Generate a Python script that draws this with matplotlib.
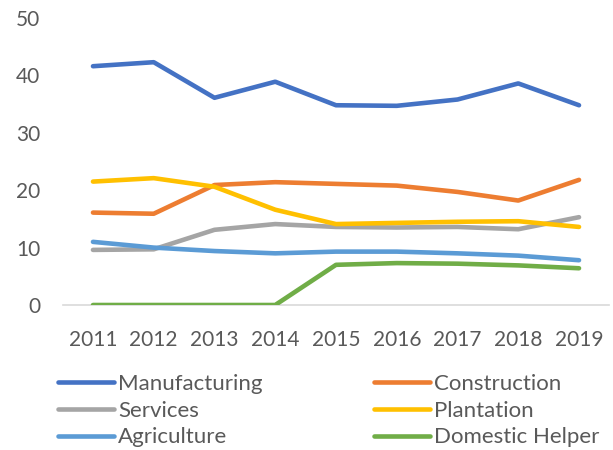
import matplotlib.pyplot as plt

plt.rcParams['font.family'] = ['Lato', 'DejaVu Sans']

years = ['2011', '2012', '2013', '2014', '2015', '2016', '2017', '2018', '2019']

manufacturing = [41.6, 42.3, 36.1, 38.9, 34.8, 34.7, 35.8, 38.6, 34.8]
construction = [16.1, 15.9, 20.9, 21.4, 21.1, 20.8, 19.7, 18.2, 21.8]
services = [9.6, 9.7, 13.1, 14.1, 13.6, 13.5, 13.6, 13.2, 15.3]
plantation = [21.5, 22.1, 20.6, 16.6, 14.1, 14.3, 14.5, 14.6, 13.6]
agriculture = [11.0, 10.0, 9.4, 9.0, 9.3, 9.3, 9.0, 8.6, 7.8]
domestic_helper = [0, 0, 0, 0, 7.0, 7.3, 7.2, 6.9, 6.4]

series = [
    ('Manufacturing', manufacturing, '#4472C4'),
    ('Construction', construction, '#ED7D31'),
    ('Services', services, '#A5A5A5'),
    ('Plantation', plantation, '#FFC000'),
    ('Agriculture', agriculture, '#5B9BD5'),
    ('Domestic Helper', domestic_helper, '#70AD47'),
]

W, H = 613, 450
fig = plt.figure(figsize=(W / 100, H / 100), dpi=100)
ax = fig.add_axes([62.6 / W, (H - 305) / H, 546.8 / W, 287 / H])

lines = {}
for name, vals, color in series:
    ln, = ax.plot(range(len(years)), vals, color=color, lw=3.3,
                  solid_capstyle='round', solid_joinstyle='round', label=name)
    lines[name] = ln

ax.set_xlim(-0.5, len(years) - 0.5)
ax.set_ylim(0, 50)
ax.set_yticks(range(0, 51, 10))
ax.set_xticks(range(len(years)))
ax.set_xticklabels(years)

for side in ('top', 'right', 'left'):
    ax.spines[side].set_visible(False)
ax.spines['bottom'].set_color('#D9D9D9')
ax.spines['bottom'].set_linewidth(1.2)
ax.spines['bottom'].set_zorder(0)
ax.tick_params(length=0, labelsize=15, colors='#595959')
ax.tick_params(axis='y', pad=16)
ax.tick_params(axis='x', pad=18)

# two legend columns, placed separately
def add_legend(names, x):
    leg = fig.legend([lines[n] for n in names], names,
                     loc='upper left', bbox_to_anchor=(x / W, (H - 374) / H),
                     frameon=False, fontsize=16, handlelength=2.5,
                     handletextpad=0.2, labelspacing=0.3,
                     borderpad=0, borderaxespad=0)
    for t in leg.get_texts():
        t.set_color('#595959')
    return leg

add_legend(['Manufacturing', 'Services', 'Agriculture'], 58)
add_legend(['Construction', 'Plantation', 'Domestic Helper'], 374)

fig.savefig('out.png', dpi=100)
